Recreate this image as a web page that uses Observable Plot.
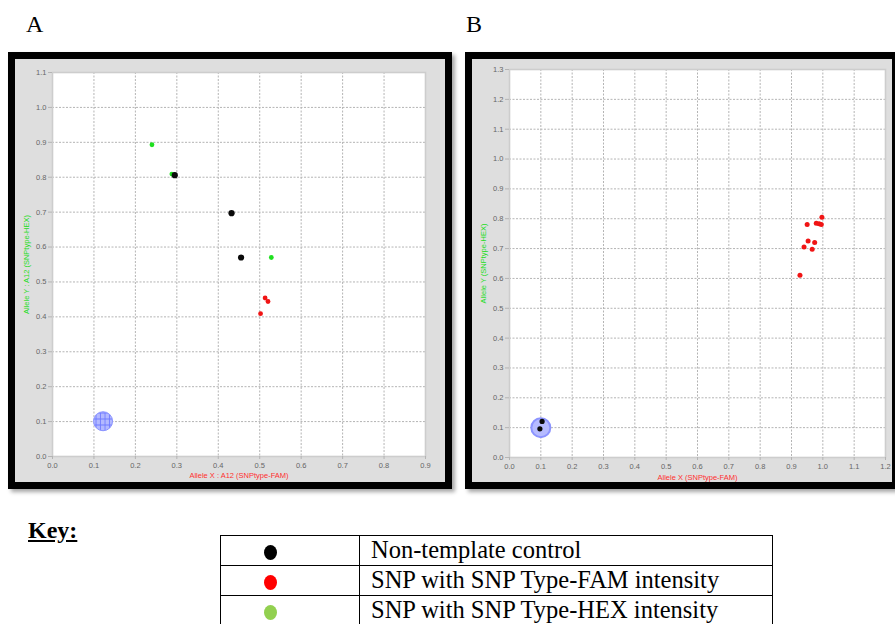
<!DOCTYPE html>
<html><head><meta charset="utf-8">
<script src="https://cdn.jsdelivr.net/npm/d3@7"></script>
<script src="https://cdn.jsdelivr.net/npm/@observablehq/plot@0.6"></script>
<style>
html,body{margin:0;padding:0;background:#fff;}
body{width:895px;height:624px;overflow:hidden;position:relative;font-family:"Liberation Serif","Times New Roman",serif;color:#000;}
.lbl{position:absolute;font-size:24px;line-height:24px;}
.panel{position:absolute;box-sizing:border-box;border:7px solid #000;background:#dedede;box-shadow:3px 3px 4px rgba(0,0,0,0.35);}
.panel svg{display:block;}
#key{position:absolute;left:28px;top:518px;font-weight:bold;text-decoration:underline;font-size:24px;line-height:24px;}
#keytable{position:absolute;left:220px;top:535px;width:553px;border-collapse:collapse;}
#keytable td{border:1.5px solid #000;height:29px;padding:0;font-size:24.5px;line-height:24px;white-space:nowrap;vertical-align:middle;}
#keytable td.sw{width:139px;padding-left:43px;box-sizing:border-box;}
#keytable td.tx{padding-left:11px;}
#keytable td.tx span{position:relative;top:-1px;}
.dot{display:inline-block;width:13px;height:15px;border-radius:50%;vertical-align:middle;}
</style>
</head>
<body>
<div class="lbl" style="left:26px;top:12px;">A</div>
<div class="lbl" style="left:466px;top:12px;">B</div>
<div class="panel" id="panelA" style="left:8px;top:52px;width:444px;height:437px;"></div>
<div class="panel" id="panelB" style="left:465px;top:52px;width:434px;height:437px;"></div>
<div id="key">Key:</div>
<table id="keytable"></table>
<script>
// ---- tick labels ----
const xTicksA = [0.0, 0.1, 0.2, 0.3, 0.4, 0.5, 0.6, 0.7, 0.8, 0.9];
const yTicksA = [0.0, 0.1, 0.2, 0.3, 0.4, 0.5, 0.6, 0.7, 0.8, 0.9, 1.0, 1.1];
const xTicksB = [0.0, 0.1, 0.2, 0.3, 0.4, 0.5, 0.6, 0.7, 0.8, 0.9, 1.0, 1.1, 1.2];
const yTicksB = [0.0, 0.1, 0.2, 0.3, 0.4, 0.5, 0.6, 0.7, 0.8, 0.9, 1.0, 1.1, 1.2, 1.3];

// ---- axis titles ----
const xLabelA = "Allele X : A12 (SNPtype-FAM)";
const yLabelA = "Allele Y : A12 (SNPtype-HEX)";
const xLabelB = "Allele X (SNPtype-FAM)";
const yLabelB = "Allele Y (SNPtype-HEX)";

// ---- panel A data ----
const hexA_x = [0.240, 0.288, 0.528];
const hexA_y = [0.893, 0.809, 0.570];
const famA_x = [0.513, 0.520, 0.502];
const famA_y = [0.454, 0.444, 0.409];
const ntcA_x = [0.295, 0.432, 0.455];
const ntcA_y = [0.806, 0.697, 0.570];
const targetA = [0.122, 0.101];

// ---- panel B data ----
const famB_x = [0.927, 0.940, 0.953, 0.950, 0.966, 0.974, 0.979, 0.988, 0.995, 0.997];
const famB_y = [0.611, 0.705, 0.725, 0.781, 0.698, 0.720, 0.785, 0.783, 0.781, 0.805];
const ntcB_x = [0.104, 0.097];
const ntcB_y = [0.121, 0.096];
const targetB = [0.100, 0.100];

// ---- key ----
const keyLabels = ["Non-template control", "SNP with SNP Type-FAM intensity", "SNP with SNP Type-HEX intensity"];
const keyColors = ["#000000", "#ff0000", "#92d050"];

const colNTC = "#0a0a0a", colFAM = "#f01414", colHEX = "#1fe01f";

function rows(xs, ys) { return xs.map((x, i) => ({x, y: ys[i]})); }

function makePanel(o) {
  const svg = Plot.plot({
    width: o.width, height: o.height,
    marginLeft: o.ml, marginRight: o.mr, marginTop: o.mt, marginBottom: o.mb,
    style: {background: "transparent", fontFamily: "'Liberation Sans', Arial, sans-serif"},
    x: {domain: o.xDomain},
    y: {domain: o.yDomain},
    marks: [
      Plot.frame({fill: "#ffffff", stroke: null}),
      Plot.gridX({ticks: o.xTicks, stroke: "#b4b4b4", strokeOpacity: 1, strokeDasharray: "2,1.5"}),
      Plot.gridY({ticks: o.yTicks, stroke: "#b4b4b4", strokeOpacity: 1, strokeDasharray: "2,1.5"}),
      Plot.frame({stroke: "#cdcdcd", strokeWidth: 1.6}),
      Plot.axisX({ticks: o.xTicks, tickFormat: ".1f", tickSize: 3, tickPadding: 3, fontSize: 7.5, stroke: "#b4b4b4", fill: "#666666", label: null}),
      Plot.axisY({ticks: o.yTicks, tickFormat: ".1f", tickSize: 4, tickPadding: 2, fontSize: 7.5, stroke: "#b4b4b4", fill: "#666666", label: null}),
      Plot.text([o.xLabel], {frameAnchor: "bottom", lineAnchor: "middle", textAnchor: "middle", dy: o.xdy, fill: "#ff3030", fontSize: 7.5}),
      Plot.text([o.yLabel], {frameAnchor: "left", lineAnchor: "middle", textAnchor: "middle", rotate: -90, dx: o.ydx, fill: "#22dd22", fontSize: 7.5}),
      Plot.dot([o.target], {x: d => d[0], y: d => d[1], r: o.tr, fill: o.tFill, stroke: o.tStroke, strokeWidth: o.tsw}),
      ...o.layers
    ]
  });
  d3.select(svg).insert("defs", ":first-child").html(
    `<pattern id="globe" patternUnits="userSpaceOnUse" width="4.5" height="6"><rect width="4.5" height="6" fill="#b3b9ff"/><path d="M4 0V6M0 5.5H4.5" stroke="#6d79ff" stroke-width="0.9"/></pattern>`
  );
  return svg;
}

document.getElementById("panelA").appendChild(makePanel({
  width: 430, height: 423, ml: 37, mr: 20, mt: 13, mb: 26,
  xDomain: [0, 0.9], yDomain: [0, 1.1], xTicks: xTicksA, yTicks: yTicksA,
  xLabel: xLabelA, yLabel: yLabelA, xdy: 19, ydx: -26,
  target: targetA, tr: 9.5, tFill: "url(#globe)", tStroke: "#8a93ff", tsw: 1,
  layers: [
    Plot.dot(rows(hexA_x, hexA_y), {x: "x", y: "y", r: 2.4, fill: colHEX}),
    Plot.dot(rows(famA_x, famA_y), {x: "x", y: "y", r: 2.4, fill: colFAM}),
    Plot.dot(rows(ntcA_x, ntcA_y), {x: "x", y: "y", r: 3.1, fill: colNTC})
  ]
}));

document.getElementById("panelB").appendChild(makePanel({
  width: 420, height: 423, ml: 37, mr: 7, mt: 10, mb: 25,
  xDomain: [0, 1.2], yDomain: [0, 1.3], xTicks: xTicksB, yTicks: yTicksB,
  xLabel: xLabelB, yLabel: yLabelB, xdy: 20, ydx: -26,
  target: targetB, tr: 9.5, tFill: "#b6bbff", tStroke: "#8c94ff", tsw: 2,
  layers: [
    Plot.dot(rows(famB_x, famB_y), {x: "x", y: "y", r: 2.5, fill: colFAM}),
    Plot.dot(rows(ntcB_x, ntcB_y), {x: "x", y: "y", r: 2.6, fill: colNTC})
  ]
}));

const tbl = d3.select("#keytable");
keyLabels.forEach((lab, i) => {
  const tr = tbl.append("tr");
  tr.append("td").attr("class", "sw").append("span").attr("class", "dot").style("background", keyColors[i]);
  tr.append("td").attr("class", "tx").append("span").text(lab);
});
</script>
</body></html>
